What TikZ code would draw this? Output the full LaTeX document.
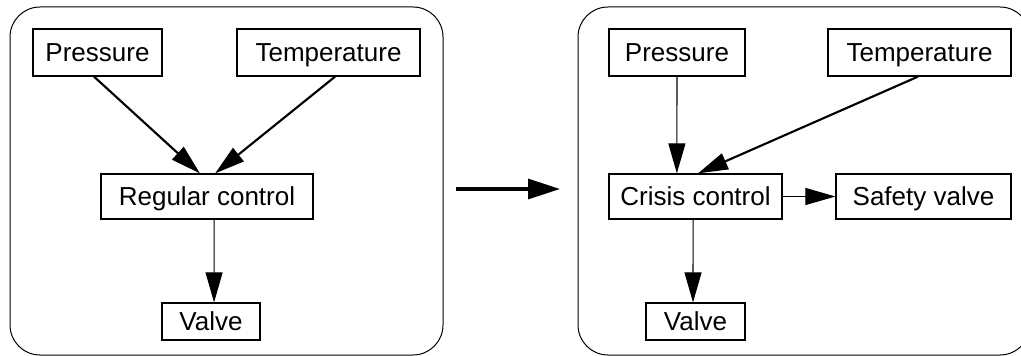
\documentclass[tikz,border=0pt]{standalone}
\usepackage{fontspec}
\setmainfont{Liberation Sans}
\usetikzlibrary{arrows.meta,calc}

\tikzset{
  box/.style={draw, line width=0.9pt, inner sep=0pt, fill=white,
    font=\fontsize{19.5}{23}\selectfont, text height=14pt, text depth=0pt},
  frame/.style={draw, line width=0.75pt, rounded corners=22.5pt, inner sep=0pt},
  tip/.style={-{Triangle[length=22.5pt,width=12.75pt]}},
  thin arrow/.style={tip, line width=0.8pt},
  thick arrow/.style={tip, line width=1.6pt},
  big arrow/.style={-{Triangle[length=24pt,width=15pt]}, line width=2.4pt},
}

\begin{document}
\begin{tikzpicture}[x=0.75pt, y=-0.75pt]
\useasboundingbox (0,0) rectangle (1021,356);
\clip (0,0) rectangle (1021,356);

% the two panels
\node[frame, minimum width=433*0.75pt, minimum height=348*0.75pt] (lframe) at (226.5,181) {};
\node[frame, minimum width=452*0.75pt, minimum height=348*0.75pt] (rframe) at (804,181) {};

% regular operation
\node[box, minimum width=129*0.75pt, minimum height=47*0.75pt] (lpres)  at (97.5,52.5)  {Pressure};
\node[box, minimum width=183*0.75pt, minimum height=47*0.75pt] (ltemp)  at (328.5,52.5) {Temperature};
\node[box, minimum width=212*0.75pt, minimum height=45*0.75pt] (lreg)   at (207,196.5)  {Regular control};
\node[box, minimum width=98*0.75pt,  minimum height=37*0.75pt] (lvalve) at (211,321.5)  {Valve};

% crisis operation
\node[box, minimum width=136*0.75pt, minimum height=47*0.75pt] (rpres)   at (677,52.5)    {Pressure};
\node[box, minimum width=183*0.75pt, minimum height=47*0.75pt] (rtemp)   at (919.5,52.5)  {Temperature};
\node[box, minimum width=173*0.75pt, minimum height=45*0.75pt] (rcrisis) at (695.5,196.5) {Crisis control};
\node[box, minimum width=175*0.75pt, minimum height=45*0.75pt] (rsafe)   at (923.5,196.5) {Safety valve};
\node[box, minimum width=99*0.75pt,  minimum height=37*0.75pt] (rvalve)  at (695.5,321.5) {Valve};

% connectors, left panel
\draw[thick arrow] ($(lpres.south west)!0.473!(lpres.south east)$) -- ($(lreg.north west)!0.467!(lreg.north east)$);
\draw[thick arrow] ($(ltemp.south west)!0.536!(ltemp.south east)$) -- ($(lreg.north west)!0.538!(lreg.north east)$);
\draw[thin arrow]  ($(lreg.south west)!0.533!(lreg.south east)$) -- ($(lvalve.north west)!0.531!(lvalve.north east)$);

% connectors, right panel
\draw[thin arrow]  ($(rpres.south west)!0.5!(rpres.south east)$) -- ($(rcrisis.north west)!0.393!(rcrisis.north east)$);
\draw[thick arrow] ($(rtemp.south west)!0.492!(rtemp.south east)$) -- ($(rcrisis.north west)!0.514!(rcrisis.north east)$);
\draw[thin arrow]  ($(rcrisis.south west)!0.486!(rcrisis.south east)$) -- ($(rvalve.north west)!0.475!(rvalve.north east)$);
\draw[thin arrow]  (rcrisis.east) -- (rsafe.west);

% transition between the panels
\coordinate (mstart) at (456,189);
\coordinate (mend) at (560,189);
\draw[big arrow] (mstart) -- (mend);
\end{tikzpicture}
\end{document}
